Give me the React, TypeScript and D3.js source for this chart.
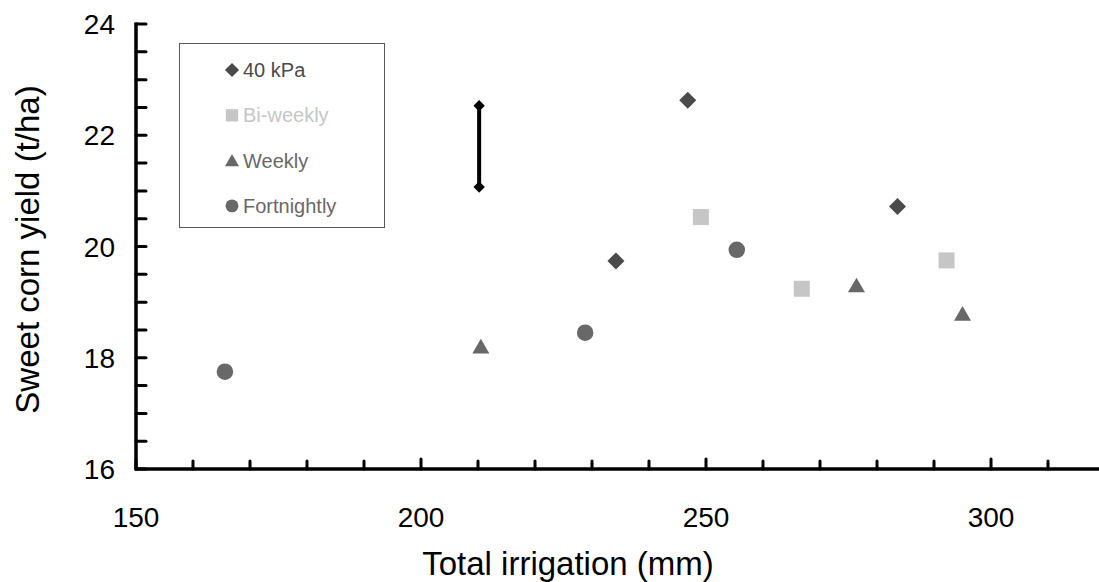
import React from "react";
import * as d3 from "d3";

const kpaX = [234.2, 246.8, 283.6];
const kpaY = [19.74, 22.63, 20.72];
const biX = [249.1, 266.8, 292.2];
const biY = [20.53, 19.24, 19.75];
const weeklyX = [210.5, 276.4, 295.0];
const weeklyY = [18.2, 19.3, 18.79];
const fortX = [165.6, 228.8, 255.4];
const fortY = [17.75, 18.45, 19.94];
const errBarX = 210.2;
const errBarLow = 21.07;
const errBarHigh = 22.53;
const xTickLabels = [150, 200, 250, 300];
const yTickLabels = [16, 18, 20, 22, 24];

const W = 1099;
const H = 582;

export default function App() {
  const x = d3.scaleLinear().domain([150, 320]).range([136, 1105]);
  const y = d3.scaleLinear().domain([16, 24]).range([469, 24]);
  const xMinor = d3.range(150, 321, 10);
  const yMinor = d3.range(16, 24.01, 0.5);

  const series = [
    { name: "40 kPa", xs: kpaX, ys: kpaY, type: d3.symbolSquare, rot: 45, color: "#4a4a4a", size: 145, legendSize: 100 },
    { name: "Bi-weekly", xs: biX, ys: biY, type: d3.symbolSquare, rot: 0, color: "#c6c6c6", size: 256, legendSize: 150 },
    { name: "Weekly", xs: weeklyX, ys: weeklyY, type: d3.symbolTriangle, rot: 0, color: "#686868", size: 125, legendSize: 85 },
    { name: "Fortnightly", xs: fortX, ys: fortY, type: d3.symbolCircle, rot: 0, color: "#686868", size: 215, legendSize: 130 },
  ];

  const sym = (t: any, s: number) => d3.symbol().type(t).size(s)() as string;
  const font = "Liberation Sans, Arial, sans-serif";

  return (
    <svg width={W} height={H} style={{ position: "absolute", left: 0, top: 0, background: "#fff" }} fontFamily={font}>
      {xMinor.map((v) => (
        <line key={"xt" + v} x1={x(v)} x2={x(v)} y1={y(16)} y2={y(16) - (v % 50 === 0 ? 10 : 8)} stroke="#000" strokeWidth={3} strokeLinecap="round" />
      ))}
      {yMinor.map((v) => (
        <line key={"yt" + v} x1={x(150)} x2={x(150) + 10} y1={y(v)} y2={y(v)} stroke="#000" strokeWidth={3} strokeLinecap="round" />
      ))}
      <line x1={x(150)} x2={x(150)} y1={y(24) - 1.5} y2={y(16)} stroke="#000" strokeWidth={3.5} />
      <line x1={x(150) - 1.5} x2={W} y1={y(16)} y2={y(16)} stroke="#000" strokeWidth={3.5} />
      {xTickLabels.map((v) => (
        <text key={"xl" + v} x={x(v)} y={527} textAnchor="middle" fontSize={28} fill="#000">{v}</text>
      ))}
      {yTickLabels.map((v) => (
        <text key={"yl" + v} x={115} y={y(v) + 10} textAnchor="end" fontSize={28} fill="#000">{v}</text>
      ))}
      <text x={568} y={575} textAnchor="middle" fontSize={33} fill="#000">Total irrigation (mm)</text>
      <text transform={`translate(39, ${y(20) + 3}) rotate(-90)`} textAnchor="middle" fontSize={33} fill="#000">Sweet corn yield (t/ha)</text>

      <line x1={x(errBarX)} x2={x(errBarX)} y1={y(errBarLow)} y2={y(errBarHigh)} stroke="#000" strokeWidth={4} />
      <path d={sym(d3.symbolSquare, 64)} transform={`translate(${x(errBarX)},${y(errBarHigh)}) rotate(45)`} fill="#000" />
      <path d={sym(d3.symbolSquare, 64)} transform={`translate(${x(errBarX)},${y(errBarLow)}) rotate(45)`} fill="#000" />

      {series.map((s) =>
        s.xs.map((v, i) => (
          <path key={s.name + i} d={sym(s.type, s.size)} transform={`translate(${x(v)},${y(s.ys[i]) + (s.type === d3.symbolTriangle ? 2 : 0)}) rotate(${s.rot})`} fill={s.color} />
        ))
      )}

      <rect x={179.5} y={43.5} width={205} height={184} fill="#fff" stroke="#595959" strokeWidth={1} />
      {series.map((s, i) => (
        <g key={"lg" + i} transform={`translate(232, ${70 + i * 45.3})`}>
          <path d={sym(s.type, s.legendSize)} fill={s.color} transform={`translate(0, ${s.type === d3.symbolTriangle ? 1.5 : 0}) rotate(${s.rot})`} />
          <text x={11} y={7} fontSize={20} fill={s.color}>{s.name}</text>
        </g>
      ))}
    </svg>
  );
}
